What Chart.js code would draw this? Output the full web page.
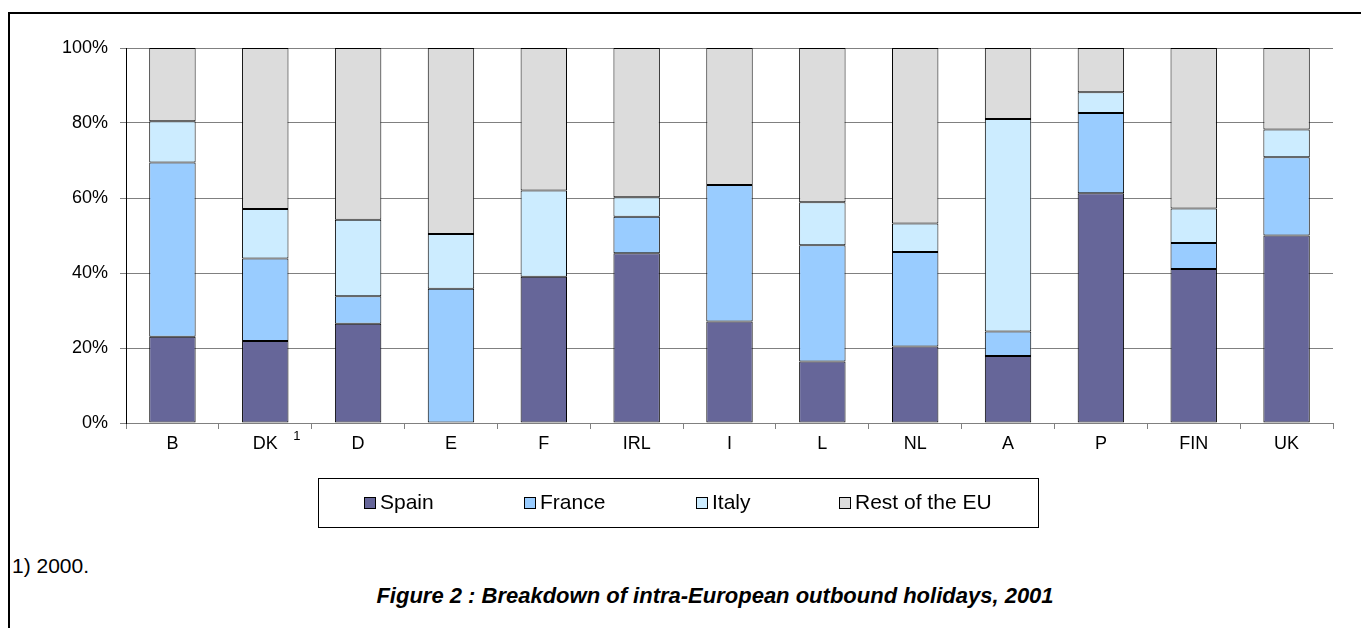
<!DOCTYPE html>
<html>
<head>
<meta charset="utf-8">
<script src="https://cdn.jsdelivr.net/npm/chart.js@4"></script>
<style>
  body { margin: 0; background: #fff; font-family: "Liberation Sans", Arial, sans-serif; }
  #wrap { position: relative; width: 1361px; height: 628px; overflow: hidden; }
  #frame { position: absolute; left: 8px; top: 12px; right: -10px; bottom: -10px; border-top: 2px solid #000; border-left: 2px solid #000; }
  #chart { position: absolute; left: 0; top: 0; }
  #note { position: absolute; left: 12px; top: 554px; font-size: 21px; color: #000; }
  #caption { position: absolute; left: 0; width: 1430px; top: 583px; text-align: center; font-size: 22px; font-weight: bold; font-style: italic; color: #000; }
</style>
</head>
<body>
<div id="wrap">
  <div id="frame"></div>
  <canvas id="chart" width="1361" height="540"></canvas>
  <div id="note">1) 2000.</div>
  <div id="caption">Figure 2 : Breakdown of intra-European outbound holidays, 2001</div>
</div>
<script>
const countries = ["B", "DK", "D", "E", "F", "IRL", "I", "L", "NL", "A", "P", "FIN", "UK"]
const footMarks = { DK: "1" }

// shares in %
const spain  = [23.0, 21.9, 26.5, 0,    39.0, 45.3, 27.1, 16.4, 20.4, 17.9, 61.3, 41.1, 50.0]
const france = [46.5, 22.0, 7.3,  35.8, 0,    9.7,  36.4, 31.0, 25.2, 6.5,  21.4, 6.9,  20.9]
const italy  = [11.0, 13.2, 20.4, 14.6, 23.0, 5.2,  0,    11.5, 7.6,  56.7, 5.5,  9.2,  7.4]
const restEU = [19.5, 42.9, 45.8, 49.6, 38.0, 39.8, 36.5, 41.1, 46.8, 18.9, 11.8, 42.8, 21.7]

const yTicks = [0, 20, 40, 60, 80, 100]

const font = "Liberation Sans, Arial, sans-serif"

function makeSet(label, data, color) {
  return {
    label: label,
    data: data,
    backgroundColor: color,
    borderColor: "#000",
    borderWidth: 1,
    borderSkipped: false,
    categoryPercentage: 1,
    barPercentage: 0.5,
  }
}

// boxed legend like the spreadsheet one
const legendBox = {
  id: "legendBox",
  afterDraw(chart) {
    const ctx = chart.ctx
    const boxX = [364, 524, 696, 839]
    ctx.save()
    ctx.strokeStyle = "#000"
    ctx.lineWidth = 1
    ctx.strokeRect(318.5, 478.5, 720, 49)
    ctx.font = "21px " + font
    ctx.textBaseline = "middle"
    chart.data.datasets.forEach((ds, i) => {
      ctx.fillStyle = ds.backgroundColor
      ctx.fillRect(boxX[i], 497, 12, 12)
      ctx.strokeStyle = "#000"
      ctx.strokeRect(boxX[i] + 0.5, 497.5, 11, 11)
      ctx.fillStyle = "#000"
      ctx.fillText(ds.label, boxX[i] + 16, 503)
    })
    ctx.restore()
  },
}

// small superscript marks next to category labels
const tickMarks = {
  id: "tickMarks",
  afterDraw(chart) {
    const ctx = chart.ctx
    const xs = chart.scales.x
    ctx.save()
    ctx.font = "13px " + font
    ctx.fillStyle = "#000"
    ctx.textBaseline = "middle"
    countries.forEach((c, i) => {
      if (!footMarks[c]) return
      ctx.fillText(footMarks[c], xs.getPixelForValue(i) + 28, 436)
    })
    ctx.restore()
  },
}

new Chart(document.getElementById("chart"), {
  type: "bar",
  data: {
    labels: countries,
    datasets: [
      makeSet("Spain", spain, "#666699"),
      makeSet("France", france, "#99CCFF"),
      makeSet("Italy", italy, "#CCECFF"),
      makeSet("Rest of the EU", restEU, "#DCDCDC"),
    ],
  },
  options: {
    responsive: false,
    animation: false,
    layout: { padding: { top: 48, right: 28, left: 0, bottom: 0 } },
    plugins: {
      legend: { display: false },
      tooltip: { enabled: false },
    },
    scales: {
      x: {
        stacked: true,
        offset: true,
        grid: { offset: true, drawOnChartArea: false, color: "#808080", tickLength: 6 },
        border: { color: "#808080" },
        ticks: { color: "#000", font: { family: font, size: 18 }, padding: 4, maxRotation: 0 },
        afterFit: (scale) => { scale.height = 117 },
      },
      y: {
        stacked: true,
        min: 0,
        max: 100,
        afterBuildTicks: (scale) => { scale.ticks = yTicks.map((v) => ({ value: v })) },
        grid: { color: "#808080", tickLength: 6 },
        border: { color: "#000" },
        ticks: {
          color: "#000",
          font: { family: font, size: 18 },
          padding: 12,
          callback: (v) => v + "%",
        },
        afterFit: (scale) => { scale.width = 126 },
      },
    },
  },
  plugins: [legendBox, tickMarks],
})
</script>
</body>
</html>
